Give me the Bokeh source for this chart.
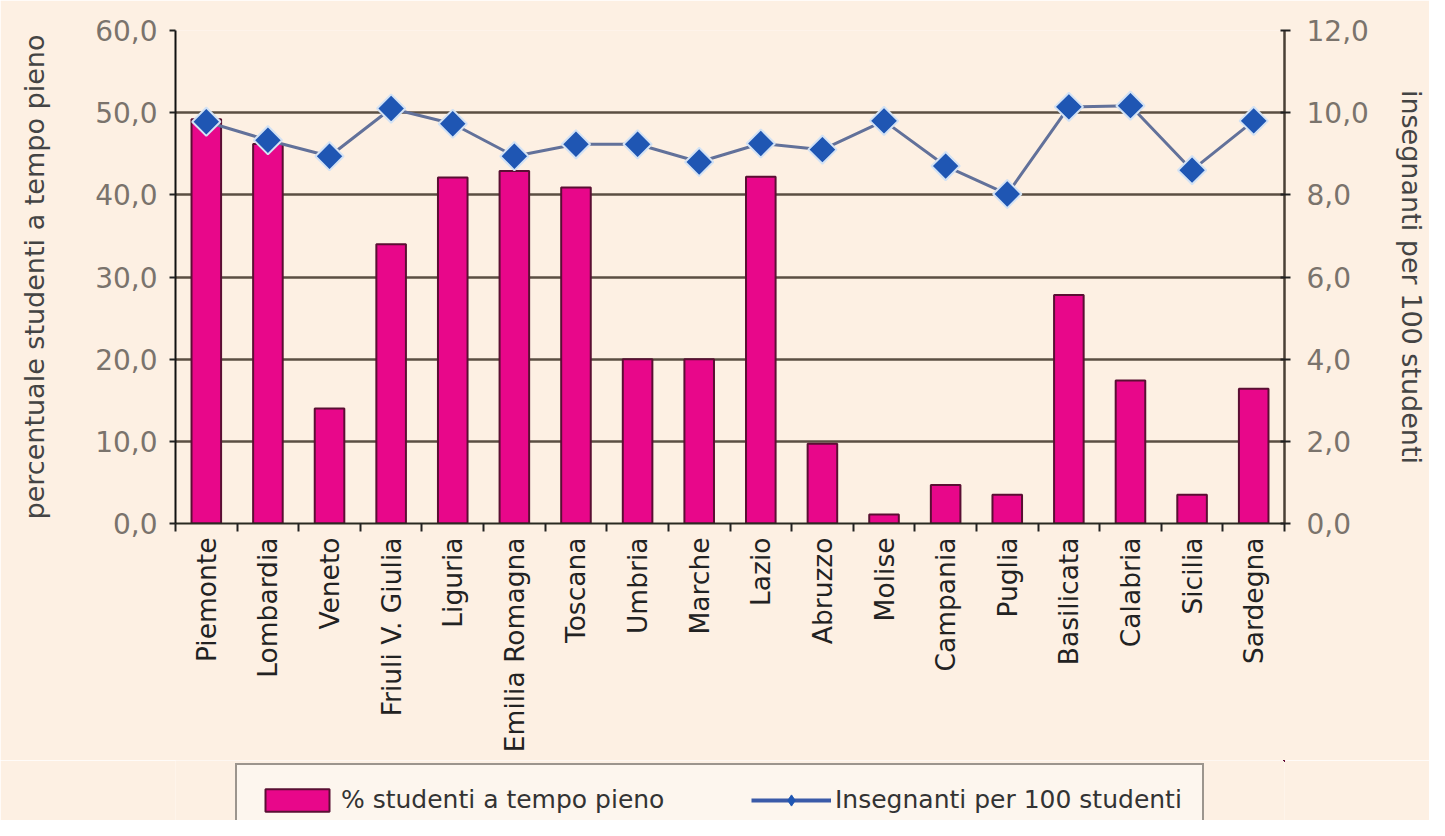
import math
import numpy as np
from bokeh.plotting import figure
from bokeh.layouts import column
from bokeh.models import (Range1d, LinearAxis, FixedTicker, Legend, LegendItem,
                          ColumnDataSource)
from bokeh.embed import file_html
from bokeh.resources import INLINE

# ---------------- data ----------------
regions = ["Piemonte", "Lombardia", "Veneto", "Friuli V. Giulia", "Liguria",
           "Emilia Romagna", "Toscana", "Umbria", "Marche", "Lazio", "Abruzzo",
           "Molise", "Campania", "Puglia", "Basilicata", "Calabria", "Sicilia",
           "Sardegna"]
pct_tempo_pieno = [49.2, 46.2, 14.0, 34.0, 42.1, 42.9, 40.9, 20.0, 20.0, 42.2,
                   9.7, 1.1, 4.7, 3.5, 27.8, 17.4, 3.5, 16.4]
insegnanti_100 = [9.78, 9.33, 8.94, 10.10, 9.73, 8.94, 9.23, 9.23, 8.80, 9.25,
                  9.10, 9.80, 8.70, 8.02, 10.14, 10.17, 8.60, 9.80]
left_ticks = [0, 10, 20, 30, 40, 50, 60]
left_tick_labels = ["0,0", "10,0", "20,0", "30,0", "40,0", "50,0", "60,0"]
right_ticks = [0, 2, 4, 6, 8, 10, 12]
right_tick_labels = ["0,0", "2,0", "4,0", "6,0", "8,0", "10,0", "12,0"]
left_title = "percentuale studenti a tempo pieno"
right_title = "insegnanti per 100 studenti"
bar_label = "% studenti a tempo pieno"
line_label = "Insegnanti per 100 studenti"

# ---------------- styling ----------------
BG = "#fdf0e3"
BAR = "#e8078a"
BAR_EDGE = "#5a0f33"
LINE = "#62719a"
MARK = "#1f56b3"
MARK_EDGE = "#d3e2f4"
GRID = "#5b4f43"
TICKC = "#7a736c"
FONT = "DejaVu Sans"

n = len(regions)
xpos = np.arange(n) + 0.5
src = ColumnDataSource(dict(x=xpos, pct=pct_tempo_pieno, ins=insegnanti_100))

p = figure(width=1429, height=760, output_backend="svg", toolbar_location=None,
           x_range=Range1d(0, n), y_range=Range1d(left_ticks[0], left_ticks[-1]),
           background_fill_color=BG, border_fill_color=BG, outline_line_color=None,
           min_border_left=175, min_border_right=140, min_border_top=30,
           min_border_bottom=237)
p.extra_y_ranges = {"right": Range1d(right_ticks[0], right_ticks[-1])}

# grid
p.xgrid.visible = False
p.ygrid.grid_line_color = GRID
p.ygrid.grid_line_width = 2.5

# x axis
xa = p.xaxis[0]
xa.ticker = FixedTicker(ticks=list(xpos), minor_ticks=list(range(n + 1)))
xa.major_label_overrides = {float(x): r for x, r in zip(xpos, regions)}
xa.major_label_orientation = math.pi / 2
xa.major_tick_line_color = None
xa.minor_tick_line_color = "#222222"
xa.minor_tick_line_width = 2
xa.minor_tick_out = 8
xa.minor_tick_in = 0
xa.major_tick_out = 8
xa.major_label_standoff = 6
xa.axis_line_color = "#2a2a22"
xa.axis_line_width = 2
xa.major_label_text_font = FONT
xa.major_label_text_font_size = "26.5px"
xa.major_label_text_color = "#222222"

# left axis
ya = p.yaxis[0]
ya.ticker = FixedTicker(ticks=left_ticks)
ya.major_label_overrides = {t: l for t, l in zip(left_ticks, left_tick_labels)}
ya.minor_tick_line_color = None
ya.major_tick_out = 6
ya.major_tick_in = 0
ya.major_tick_line_width = 2
ya.major_tick_line_color = "#222222"
ya.major_label_standoff = 12
ya.axis_line_color = "#111111"
ya.axis_line_width = 2
ya.major_label_text_font = FONT
ya.major_label_text_font_size = "28px"
ya.major_label_text_color = TICKC
ya.axis_label = left_title
ya.axis_label_text_font = FONT
ya.axis_label_text_font_style = "normal"
ya.axis_label_text_font_size = "27px"
ya.axis_label_text_color = "#444444"
ya.axis_label_standoff = 42

# right axis
ra = LinearAxis(y_range_name="right", ticker=FixedTicker(ticks=right_ticks))
ra.major_label_overrides = {t: l for t, l in zip(right_ticks, right_tick_labels)}
ra.minor_tick_line_color = None
ra.major_tick_out = 6
ra.major_tick_in = 4
ra.major_tick_line_width = 2
ra.major_tick_line_color = "#222222"
ra.major_label_standoff = 16
ra.axis_line_color = "#4a4036"
ra.axis_line_width = 2.5
ra.major_label_text_font = FONT
ra.major_label_text_font_size = "28px"
ra.major_label_text_color = TICKC
ra.axis_label = right_title
ra.axis_label_text_font = FONT
ra.axis_label_text_font_style = "normal"
ra.axis_label_text_font_size = "27px"
ra.axis_label_text_color = "#444444"
ra.axis_label_standoff = 24
p.add_layout(ra, "right")

# glyphs
p.vbar(x="x", top="pct", width=0.48, source=src, fill_color=BAR,
       line_color=BAR_EDGE, line_width=2)
p.line(x="x", y="ins", source=src, y_range_name="right", line_color=LINE,
       line_width=3)
p.scatter(x="x", y="ins", source=src, y_range_name="right", marker="square",
          angle=math.pi / 4, size=20, fill_color=MARK, line_color=MARK_EDGE,
          line_width=2)

# ---------------- legend strip (below the chart) ----------------
# same data, but the strip's ranges lie outside it, so only the legend shows
pl = figure(width=1429, height=60, output_backend="svg", toolbar_location=None,
            x_range=Range1d(-3, -2), y_range=Range1d(-3, -2),
            x_axis_location=None, y_axis_location=None,
            background_fill_color=BG, border_fill_color=BG, outline_line_color=None,
            min_border=0)
pl.grid.visible = False
lb = pl.vbar(x="x", top="pct", width=0.48, source=src, fill_color=BAR,
             line_color=BAR_EDGE, line_width=2)
ll = pl.line(x="x", y="ins", source=src, line_color="#3a5aa8", line_width=4)
lm = pl.scatter(x="x", y="ins", source=src, marker="diamond", fill_color=MARK,
                line_color=MARK, line_width=1)

legend = Legend(items=[LegendItem(label=bar_label, renderers=[lb]),
                       LegendItem(label=line_label, renderers=[ll, lm])],
                orientation="horizontal", location=(60, -16),
                background_fill_color="#fdf6ee", background_fill_alpha=1,
                border_line_color="#3b332c", border_line_width=2,
                label_text_font=FONT, label_text_font_size="25px",
                label_text_color="#333333", glyph_width=80, glyph_height=28,
                label_standoff=4, spacing=80, padding=20, margin=0,
                label_width=330)
pl.add_layout(legend, "center")

layout = column(p, pl, spacing=0)
open("out.html", "w").write(file_html(layout, INLINE))
